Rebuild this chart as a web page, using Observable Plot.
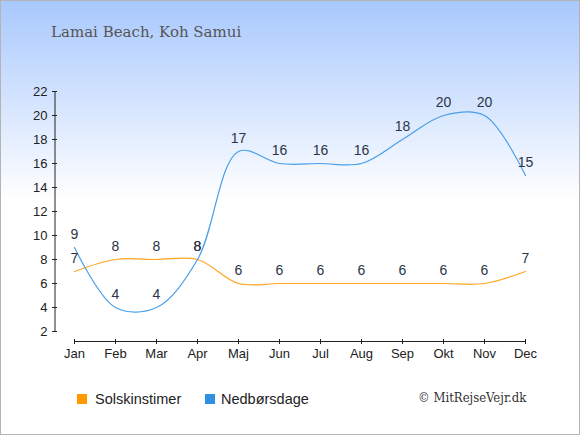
<!DOCTYPE html>
<html>
<head>
<meta charset="utf-8">
<script src="https://cdn.jsdelivr.net/npm/d3@7"></script>
<script src="https://cdn.jsdelivr.net/npm/@observablehq/plot@0.6"></script>
<style>
  html, body { margin: 0; padding: 0; background: #fff; }
  #wrap { position: relative; width: 580px; height: 435px; overflow: hidden;
          background: linear-gradient(to bottom, #a8c8fd 0%, #ffffff 46%, #ffffff 100%); }
  #frame { position: absolute; left: 0; top: 0; width: 578px; height: 433px; border: 1px solid #b4b4b4; pointer-events: none; }
  #title { position: absolute; left: 51px; top: 25px; font: 15px/15px "DejaVu Serif", serif; color: #555; white-space: nowrap; }
  #chart { position: absolute; left: 0; top: 0; }
  .sq { position: absolute; width: 10px; height: 10px; }
  .lg { position: absolute; font: 14.5px/14.5px "Liberation Sans", Arial, sans-serif; color: #222; white-space: nowrap; }
  #copy { position: absolute; left: 418px; top: 391px; font: 13px/13px "DejaVu Serif", serif; font-stretch: condensed; color: #333; white-space: nowrap; }
</style>
</head>
<body>
<div id="wrap">
  <div id="title">Lamai Beach, Koh Samui</div>
  <div id="chart"></div>
  <div class="sq" style="left:77px;top:394px;background:#ff9a00"></div>
  <div class="lg" style="left:95px;top:392px">Solskinstimer</div>
  <div class="sq" style="left:205px;top:394px;background:#2f90e3"></div>
  <div class="lg" style="left:221px;top:392px">Nedbørsdage</div>
  <div id="copy">© MitRejseVejr.dk</div>
  <div id="frame"></div>
</div>
<script>
const months = ["Jan","Feb","Mar","Apr","Maj","Jun","Jul","Aug","Sep","Okt","Nov","Dec"];
const sunHours = [7,8,8,8,6,6,6,6,6,6,6,7];
const rainDays = [9,4,4,8,17,16,16,16,18,20,20,15];
const yTicks = [2,4,6,8,10,12,14,16,18,20,22];

const data = months.map((m, i) => ({month: m, sun: sunHours[i], rain: rainDays[i]}));

const sunColor = "#ffa51f";
const rainColor = "#4a9fe8";
const labelColor = "#2b3547";

const chart = Plot.plot({
  width: 580,
  height: 370,
  marginLeft: 74,
  marginRight: 55,
  marginTop: 91,
  marginBottom: 39,
  style: {background: "transparent", overflow: "visible", fontFamily: "'Liberation Sans', Arial, sans-serif", fontSize: "13px", color: "#222"},
  x: {type: "point", domain: months, padding: 0, axis: null},
  y: {domain: [2, 22], axis: null},
  marks: [
    Plot.ruleX([months[0]], {x: d => d, y1: 2, y2: 22, dx: -19.5, stroke: "#222", strokeWidth: 1}),
    Plot.ruleY([2], {y: d => d, dy: 10, stroke: "#222", strokeWidth: 1}),
    Plot.axisY({ticks: yTicks, tickSize: 5, tickPadding: 5, dx: -17, label: null, fontSize: 13, stroke: "#222"}),
    Plot.axisX({tickSize: 5, tickPadding: 4, dy: 8, label: null, fontSize: 13, stroke: "#222"}),
    Plot.line(data, {x: "month", y: "sun", curve: "catmull-rom", stroke: sunColor, strokeWidth: 1.2}),
    Plot.line(data, {x: "month", y: "rain", curve: "catmull-rom", stroke: rainColor, strokeWidth: 1.2}),
    Plot.text(data, {x: "month", y: "sun", text: d => String(d.sun), dy: -13, fill: labelColor, fontSize: 14}),
    Plot.text(data, {x: "month", y: "rain", text: d => String(d.rain), dy: -13, fill: labelColor, fontSize: 14})
  ]
});
document.getElementById("chart").appendChild(chart);
</script>
</body>
</html>
